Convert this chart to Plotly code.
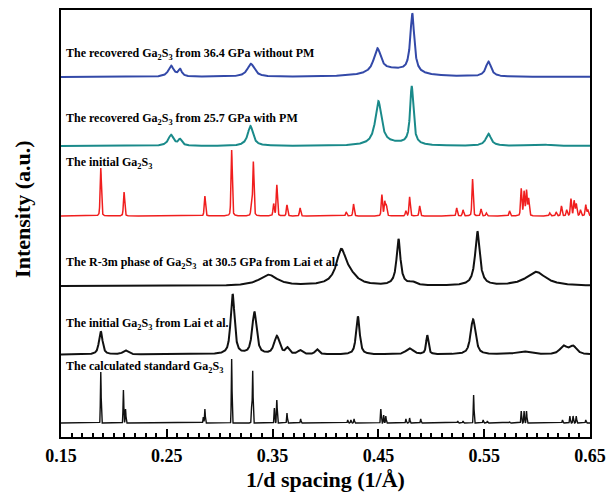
import numpy as np
import plotly.graph_objects as go

# ---- data: peak tables (position in 1/Å, height in a.u., half width at half max in 1/Å) ----
blue_pos = [0.254, 0.2625, 0.3295, 0.449, 0.482, 0.554, 0.465]
blue_amp = [11, 7, 13, 24, 59, 15, 7]
blue_hwhm = [0.0030, 0.0020, 0.0040, 0.0040, 0.0022, 0.0030, 0.022]

teal_pos = [0.254, 0.2625, 0.329, 0.450, 0.4815, 0.554, 0.603, 0.465]
teal_amp = [11, 6, 20, 43, 58, 12, 1.5, 2.5]
teal_hwhm = [0.0030, 0.0020, 0.0030, 0.0035, 0.0018, 0.0030, 0.010, 0.020]

red_pos = [0.1876, 0.2096, 0.286, 0.3113, 0.3318, 0.3300, 0.351, 0.354, 0.3636, 0.376,
           0.4196, 0.4265, 0.4533, 0.456, 0.4575, 0.476, 0.4795, 0.489, 0.524, 0.530,
           0.539, 0.547, 0.552, 0.574, 0.585, 0.5877, 0.590, 0.592, 0.612, 0.618,
           0.623, 0.628, 0.632, 0.635, 0.637, 0.641, 0.646, 0.648]
red_amp = [48, 24, 20, 66, 54, 10, 12, 31, 11, 8,
           4, 12, 21, 14, 10, 5, 19, 10, 8, 6,
           37, 7, 3, 5, 27, 24, 25, 17, 3, 4,
           10, 6, 17, 15, 12, 6, 11, 6]

r3m_pos = [0.346, 0.4148, 0.423, 0.469, 0.482, 0.5436, 0.599]
r3m_amp = [11, 33, 8, 46, 3, 54, 14]
r3m_hwhm = [0.010, 0.0055, 0.008, 0.0022, 0.004, 0.0026, 0.011]

lai_pos = [0.1876, 0.211, 0.3122, 0.3328, 0.354, 0.364, 0.376, 0.392, 0.4306, 0.4795,
           0.4962, 0.5395, 0.587, 0.625, 0.634]
lai_amp = [23, 4, 60, 42, 18, 6, 4, 5, 38, 6,
           19, 35, 3, 8, 8]
lai_hwhm = [0.0020, 0.003, 0.0022, 0.0025, 0.003, 0.002, 0.0025, 0.002, 0.0020, 0.004,
            0.0013, 0.0028, 0.008, 0.004, 0.004]

calc_pos = [0.1876, 0.209, 0.211, 0.2845, 0.286, 0.3113, 0.3302, 0.3312, 0.3517, 0.354,
            0.3636, 0.3765, 0.421, 0.424, 0.427, 0.4523, 0.455, 0.457, 0.476, 0.4795,
            0.490, 0.525, 0.530, 0.540, 0.549, 0.553, 0.574, 0.585, 0.5877, 0.590,
            0.624, 0.631, 0.634, 0.637, 0.646]
calc_amp = [51, 33, 14, 6, 14, 64, 16, 52, 15, 23,
            10, 4, 3, 3, 4, 14, 8, 7, 4, 5,
            4, 2, 2, 28, 3, 2, 1, 12, 12, 12,
            3, 7, 7, 7, 3]

labels = [
    "The recovered Ga<sub>2</sub>S<sub>3</sub> from 36.4 GPa without PM",
    "The recovered Ga<sub>2</sub>S<sub>3</sub> from 25.7 GPa with PM",
    "The initial Ga<sub>2</sub>S<sub>3</sub>",
    "The R-3m phase of Ga<sub>2</sub>S<sub>3</sub>  at 30.5 GPa from Lai et al.",
    "The initial Ga<sub>2</sub>S<sub>3</sub> from Lai et al.",
    "The calculated standard Ga<sub>2</sub>S<sub>3</sub>",
]

# ---- profile synthesis ----
x = np.linspace(0.15, 0.65, 5001)


def profile(pos, amp, hwhm, eta):
    """Sum of pseudo-Voigt peaks (eta = Lorentzian fraction)."""
    y = np.zeros_like(x)
    hw = np.broadcast_to(np.asarray(hwhm, dtype=float), (len(pos),))
    for p, a, w in zip(pos, amp, hw):
        d = (x - p) / w
        lor = 1.0 / (1.0 + d * d)
        gau = np.exp(-np.log(2.0) * d * d)
        y += a * (eta * lor + (1 - eta) * gau)
    return y


# vertical stacking offsets and styles
series = [
    (profile(blue_pos, blue_amp, blue_hwhm, 1.0), 360, "#3349a8", 2.0),
    (profile(teal_pos, teal_amp, teal_hwhm, 1.0), 291, "#1a8a8a", 2.0),
    (profile(red_pos, red_amp, 0.0007, 0.3), 221, "#f01e1e", 1.5),
    (profile(r3m_pos, r3m_amp, r3m_hwhm, 1.0), 151, "#111111", 2.0),
    (profile(lai_pos, lai_amp, lai_hwhm, 0.7), 82.5, "#111111", 2.0),
    (profile(calc_pos, calc_amp, 0.0004, 0.0), 14, "#111111", 1.4),
]
label_y = [383, 318, 274, 174, 113, 70]

fig = go.Figure()
for y, off, color, lw in series:
    fig.add_trace(go.Scatter(x=x, y=y + off, mode="lines",
                             line=dict(color=color, width=lw), hoverinfo="skip"))

serif = "Liberation Serif"
for txt, ly in zip(labels, label_y):
    fig.add_annotation(x=0.006, xref="paper", y=ly, yref="y", text=txt,
                       showarrow=False, xanchor="left", yanchor="middle",
                       font=dict(family=serif, size=12, color="black", weight="bold"))

fig.add_annotation(x=-0.072, xref="paper", y=0.534, yref="paper",
                   text="Intensity (a.u.)", textangle=-90, showarrow=False,
                   xanchor="center", yanchor="middle",
                   font=dict(family=serif, size=22, color="black", weight="bold"))

fig.update_layout(
    width=606, height=492,
    margin=dict(l=61, r=16, t=10, b=55, autoexpand=False),
    plot_bgcolor="white", paper_bgcolor="white",
    showlegend=False,
)
fig.update_xaxes(
    range=[0.15, 0.65], tick0=0.15, dtick=0.1, tickformat=".2f",
    ticks="inside", ticklen=8, tickwidth=1.6, tickcolor="black",
    ticklabelstandoff=2, automargin=False,
    showline=True, linecolor="black", linewidth=1.5, mirror=True,
    showgrid=False, zeroline=False,
    tickfont=dict(family=serif, size=18, color="black", weight="bold"),
    minor=dict(dtick=0.01, ticks="inside", ticklen=4.5,
               tickwidth=1.5, tickcolor="black", showgrid=False),
    title=dict(text="1/d spacing (1/Å)", standoff=7,
               font=dict(family=serif, size=22, color="black", weight="bold")),
)
fig.update_yaxes(
    range=[0, 427], showticklabels=False, ticks="", automargin=False,
    showline=True, linecolor="black", linewidth=1.5, mirror=True,
    showgrid=False, zeroline=False,
)

fig.write_html("out.html")
